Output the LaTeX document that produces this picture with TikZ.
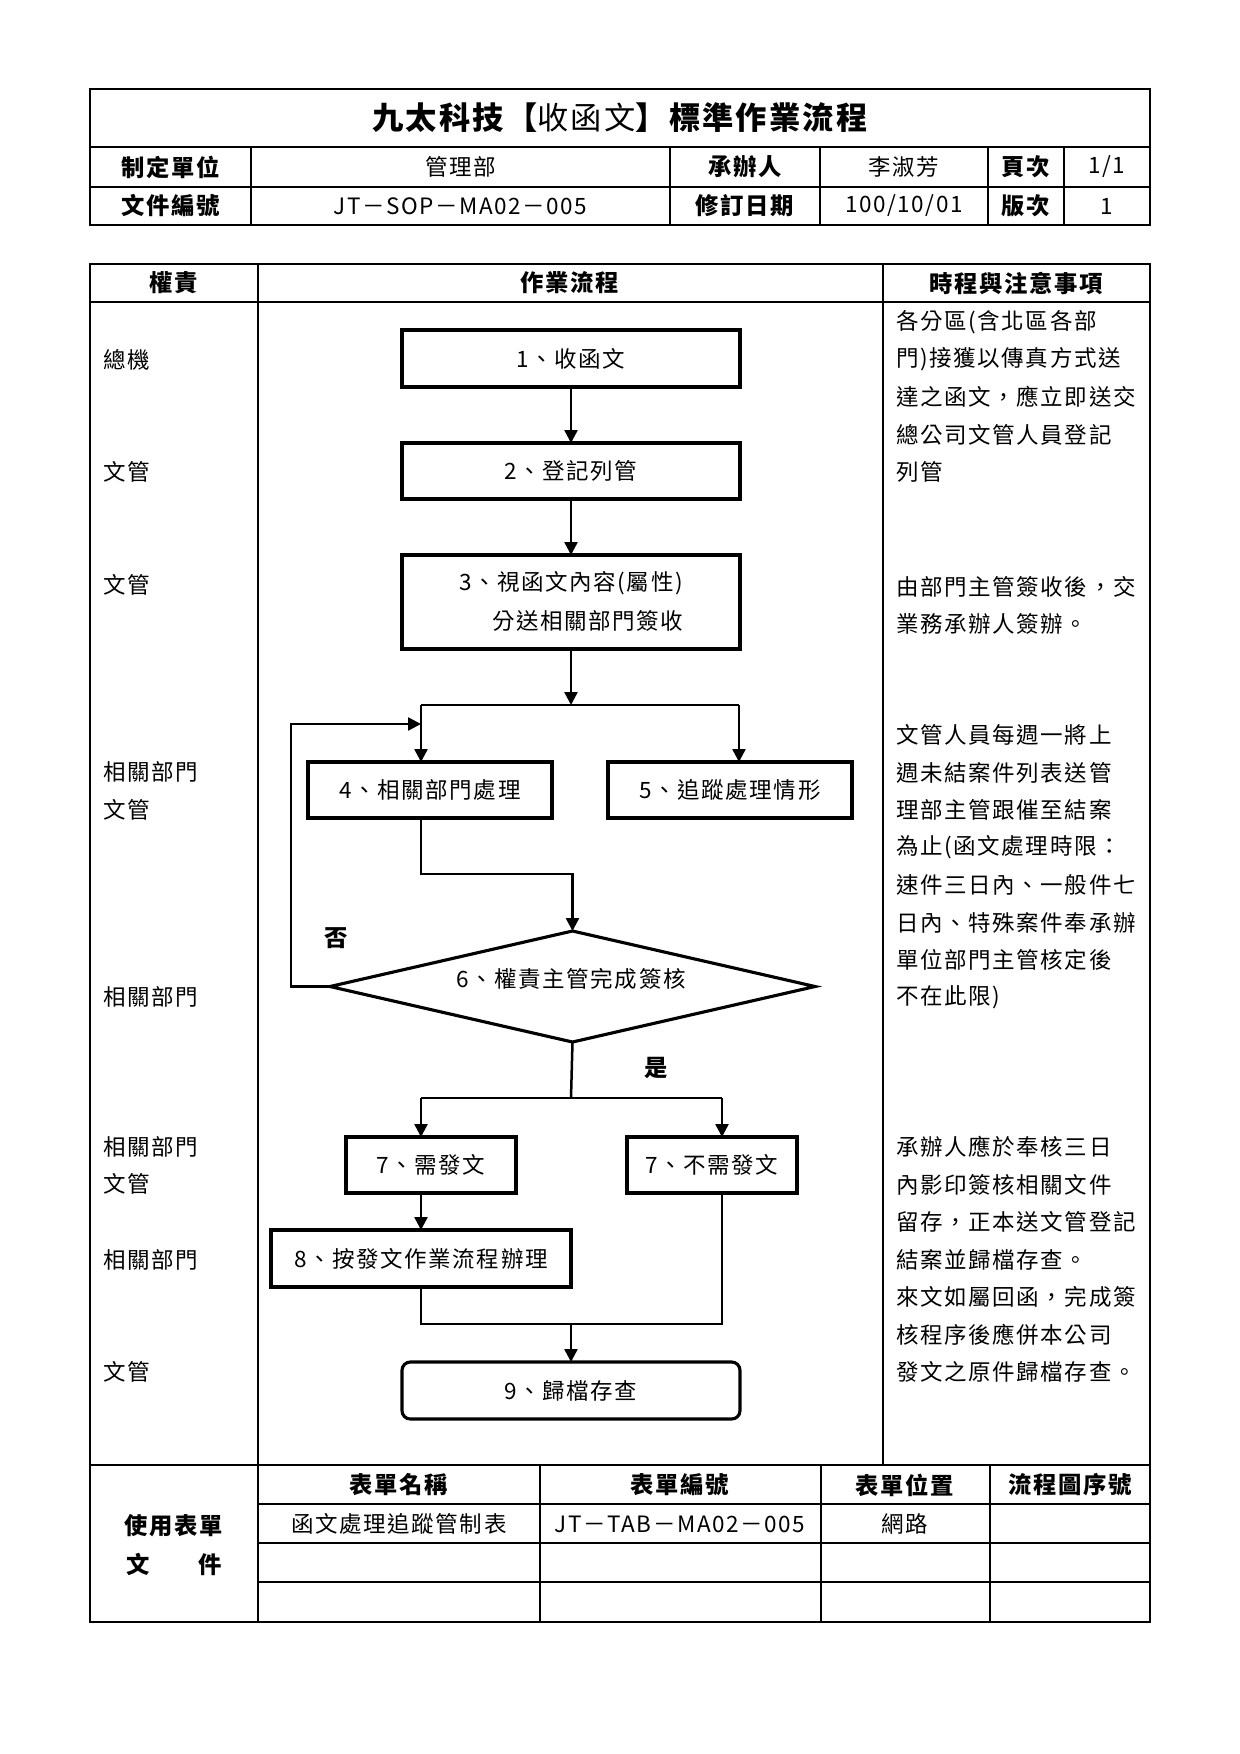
\documentclass[tikz,border=0pt]{standalone}
\usepackage{fontspec}
\setmainfont[LetterSpace=7]{Noto Sans CJK TC}
\usetikzlibrary{arrows.meta,shapes.geometric}
\begin{document}
\begin{tikzpicture}[x=0.48pt,y=-0.48pt,
  hline/.style={line width=1.1pt},
  tline/.style={line width=0.9pt},
  box/.style={draw,line width=1.5pt,inner sep=0pt,outer sep=0pt},
  conn/.style={line width=1.2pt},
  arr/.style={conn,-{Triangle[width=6.2pt,length=6.2pt]}},
  body/.style={inner sep=0pt,font=\fontsize{10.8}{13}\selectfont},
  bodyb/.style={inner sep=0pt,font=\fontsize{11.2}{14}\selectfont\bfseries},
  lbl/.style={body,anchor=west}]
\useasboundingbox (0,0) rectangle (1240,1754);
\fill[white] (0,0) rectangle (1240,1754);

% ---------- header table ----------
\draw[hline] (90,89) rectangle (1150,225);
\draw[hline] (90,147) -- (1150,147);
\draw[hline] (90,187) -- (1150,187);
\foreach \xx in {251,670,820,988,1064} \draw[hline] (\xx,147) -- (\xx,225);
\node[inner sep=0pt,font=\fontsize{15}{18}\selectfont] (title) at (620,118)
  {\bfseries 九太科技【\mdseries 收函文\bfseries 】標準作業流程};
\node[bodyb] (h11) at (170.5,167) {制定單位};
\node[body]  (h12) at (460.5,167) {管理部};
\node[bodyb] (h13) at (745,167) {承辦人};
\node[body]  (h14) at (904,167) {李淑芳};
\node[bodyb] (h15) at (1026,167) {頁次};
\node[body]  (h16) at (1107,167) {1/1};
\node[bodyb] (h21) at (170.5,206) {文件編號};
\node[body]  (h22) at (460.5,206) {JT－SOP－MA02－005};
\node[bodyb] (h23) at (745,206) {修訂日期};
\node[body]  (h24) at (904,206) {100/10/01};
\node[bodyb] (h25) at (1026,206) {版次};
\node[body]  (h26) at (1107,206) {1};

% ---------- main table ----------
\draw[tline] (90,264) rectangle (1150,1622);
\draw[tline] (90,302) -- (1150,302);
\draw[tline] (90,1465) -- (1150,1465);
\draw[tline] (258,264) -- (258,1622);
\draw[tline] (883,264) -- (883,1465);
\foreach \yy in {1504,1543,1582} \draw[tline] (258,\yy) -- (1150,\yy);
\foreach \xx in {540,821,990} \draw[tline] (\xx,1465) -- (\xx,1622);
\node[bodyb] (c1) at (174,283) {權責};
\node[bodyb] (c2) at (570,283) {作業流程};
\node[bodyb] (c3) at (1016,283) {時程與注意事項};

% left labels
\node[lbl] (r1) at (103,360) {總機};
\node[lbl] (r2) at (103,472) {文管};
\node[lbl] (r3) at (103,585) {文管};
\node[lbl] (r4) at (103,772) {相關部門};
\node[lbl] (r5) at (103,810) {文管};
\node[lbl] (r6) at (103,997) {相關部門};
\node[lbl] (r7) at (103,1147) {相關部門};
\node[lbl] (r8) at (103,1184) {文管};
\node[lbl] (r9) at (103,1260) {相關部門};
\node[lbl] (r10) at (103,1372) {文管};

% notes
\foreach \t [count=\i] in {各分區(含北區各部,門)接獲以傳真方式送,達之函文，應立即送交,總公司文管人員登記,列管}
  \node[lbl] (na\i) at (896,{322+(\i-1)*37.5}) {\t};
\foreach \t [count=\i] in {由部門主管簽收後，交,業務承辦人簽辦。}
  \node[lbl] (nb\i) at (896,{587+(\i-1)*36.5}) {\t};
\foreach \t [count=\i] in {文管人員每週一將上,週未結案件列表送管,理部主管跟催至結案,為止(函文處理時限：,速件三日內、一般件七,日內、特殊案件奉承辦,單位部門主管核定後,不在此限)}
  \node[lbl] (nc\i) at (896,{735+(\i-1)*37.5}) {\t};
\foreach \t [count=\i] in {承辦人應於奉核三日,內影印簽核相關文件,留存，正本送文管登記,結案並歸檔存查。,來文如屬回函，完成簽,核程序後應併本公司,發文之原件歸檔存查。}
  \node[lbl] (nd\i) at (896,{1147+(\i-1)*37.5}) {\t};

% bottom table
\node[bodyb] (u1) at (174,1526) {使用表單};
\node[bodyb] (u2) at (174,1564) {\hbox to 46pt{文\hfill 件}};
\node[bodyb] (f1) at (399,1485) {表單名稱};
\node[bodyb] (f2) at (680,1485) {表單編號};
\node[bodyb] (f3) at (905,1485) {表單位置};
\node[bodyb] (f4) at (1070,1485) {流程圖序號};
\node[body] (g1) at (399,1524) {函文處理追蹤管制表};
\node[body] (g2) at (680,1524) {JT－TAB－MA02－005};
\node[body] (g3) at (905,1524) {網路};

% ---------- flow chart ----------
\node[box,minimum width=338*0.48pt,minimum height=57*0.48pt,body] (b1) at (571,358.5) {1、收函文};
\node[box,minimum width=338*0.48pt,minimum height=56*0.48pt,body] (b2) at (571,471) {2、登記列管};
\node[box,minimum width=338*0.48pt,minimum height=94*0.48pt] (b3) at (571,602) {};
\node[body] (t3a) at (571,583) {3、視函文內容(屬性)};
\node[lbl] (t3b) at (492,621) {分送相關部門簽收};
\node[box,minimum width=244*0.48pt,minimum height=56*0.48pt,body] (b4) at (430,790) {4、相關部門處理};
\node[box,minimum width=244*0.48pt,minimum height=56*0.48pt,body] (b5) at (730,790) {5、追蹤處理情形};
\node[box,diamond,minimum width=485*0.48pt,minimum height=111*0.48pt,aspect=4.37] (d6) at (572.5,986.5) {};
\node[body] (t6) at (571,979) {6、權責主管完成簽核};
\node[box,minimum width=170*0.48pt,minimum height=56*0.48pt,body] (b7a) at (431,1165) {7、需發文};
\node[box,minimum width=170*0.48pt,minimum height=56*0.48pt,body] (b7b) at (712,1165) {7、不需發文};
\node[box,minimum width=300*0.48pt,minimum height=57*0.48pt,body] (b8) at (421,1258.5) {8、按發文作業流程辦理};
\node[box,rounded corners=4pt,minimum width=338*0.48pt,minimum height=57*0.48pt,body] (b9) at (571,1390.5) {9、歸檔存查};
\node[bodyb] (no) at (336,938) {否};
\node[bodyb] (yes) at (656,1068) {是};

\coordinate (s1) at (571,705);
\coordinate (s1l) at (421,705);
\coordinate (s1r) at (739,705);
\coordinate (j4) at (421,874);
\coordinate (lpb) at (291,986.5);
\coordinate (lpt) at (421,724);
\coordinate (y1) at (571,1098);
\coordinate (y1l) at (421,1098);
\coordinate (y1r) at (722,1098);
\coordinate (m0) at (571,1324);
\coordinate (m1) at (421,1324);
\coordinate (m2) at (722,1324);

\draw[arr] (b1) -- (b2);
\draw[arr] (b2) -- (b3);
\draw[arr] (b3.south) -- (s1);
\draw[conn] (s1l) -- (s1r);
\draw[arr] (s1l) -- (s1l |- b4.north);
\draw[arr] (s1r) -- (s1r |- b5.north);
\draw[arr] (s1l |- b4.south) -- (j4) -| (d6.north);
\draw[arr] (d6.west) -- (lpb) |- (lpt);
\draw[conn] (d6.south) -- (y1);
\draw[conn] (y1l) -- (y1r);
\draw[arr] (y1l) -- (y1l |- b7a.north);
\draw[arr] (y1r) -- (y1r |- b7b.north);
\draw[arr] (y1l |- b7a.south) -- (y1l |- b8.north);
\draw[conn] (y1l |- b8.south) -- (m1) -- (m2) -- (y1r |- b7b.south);
\draw[arr] (m0) -- (b9.north);
\end{tikzpicture}
\end{document}
